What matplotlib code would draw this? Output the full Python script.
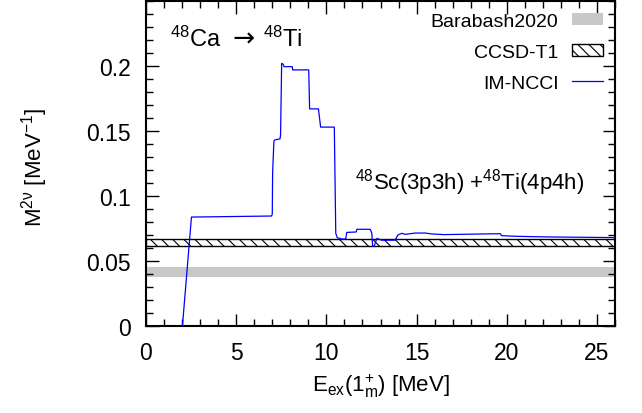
import matplotlib
matplotlib.use('Agg')
import matplotlib.pyplot as plt
from matplotlib.patches import Patch
from matplotlib.lines import Line2D
from matplotlib.ticker import MultipleLocator, FuncFormatter, FixedLocator

plt.rcParams['font.family'] = ['Liberation Sans', 'DejaVu Sans']
plt.rcParams['mathtext.fontset'] = 'custom'
plt.rcParams['mathtext.rm'] = 'Liberation Sans'
plt.rcParams['mathtext.it'] = 'Liberation Sans:italic'
plt.rcParams['mathtext.bf'] = 'Liberation Sans:bold'
plt.rcParams['mathtext.default'] = 'regular'
plt.rcParams['hatch.linewidth'] = 0.8

# IM-NCCI running sum vs excitation energy
energy = [2.02, 2.52, 6.96, 7.00, 7.02, 7.09, 7.12, 7.43, 7.46, 7.52, 7.60, 7.65,
          8.11, 8.13, 9.02, 9.07, 9.56, 9.68, 10.44, 10.52, 10.60, 10.85, 11.07,
          11.13, 11.63, 11.66, 11.69, 12.43, 12.52, 12.56, 12.65, 12.80, 13.07,
          13.81, 13.96, 14.18, 14.37, 14.93, 15.48, 15.85, 16.50, 18.63, 19.65,
          19.70, 20.50, 22.33, 26.0]
m2v = [0.0, 0.0838, 0.0846, 0.086, 0.118, 0.142, 0.143, 0.144, 0.147, 0.202,
       0.2015, 0.1995, 0.1995, 0.197, 0.197, 0.167, 0.167, 0.153, 0.153, 0.0713,
       0.068, 0.0669, 0.0669, 0.072, 0.0723, 0.0725, 0.0744, 0.0744, 0.0713,
       0.0615, 0.0615, 0.0674, 0.066, 0.066, 0.070, 0.0713, 0.0705, 0.0715,
       0.0715, 0.0708, 0.0703, 0.0708, 0.071, 0.0695, 0.069, 0.0685, 0.068]

barabash_low, barabash_high = 0.0378, 0.0454
ccsd_low, ccsd_high = 0.0618, 0.0669

x_ticks = [0, 5, 10, 15, 20, 25]
y_ticks = [0, 0.05, 0.1, 0.15, 0.2]

fig = plt.figure(figsize=(6.42, 4.14), dpi=100)
ax = fig.add_axes([146 / 642, 1 - 327 / 414, 469 / 642, 325 / 414])

ax.axhspan(barabash_low, barabash_high, color='#c8c8c8', lw=0, zorder=1)
ax.axhspan(ccsd_low, ccsd_high, facecolor='white', edgecolor='black',
           hatch='\\\\\\', lw=1.0, zorder=2)
ax.plot(energy, m2v, color='#0000ff', lw=0.9, zorder=3)

ax.set_xlim(0, 26)
ax.set_ylim(0, 0.25)
ax.xaxis.set_major_locator(FixedLocator(x_ticks))
ax.xaxis.set_minor_locator(MultipleLocator(1))
ax.yaxis.set_major_locator(FixedLocator(y_ticks))
ax.yaxis.set_minor_locator(MultipleLocator(0.01))
ax.yaxis.set_major_formatter(FuncFormatter(lambda v, p: f'{v:g}'))

ax.tick_params(which='both', direction='in', top=True, right=True, width=1)
ax.tick_params(which='major', length=9, labelsize=16.5, pad=11)
ax.tick_params(which='minor', length=5)
for s in ax.spines.values():
    s.set_linewidth(1.5)

ax.set_ylabel(r'M$^{2\nu}$ [MeV$^{-1}$]', fontsize=16)
ax.yaxis.set_label_coords(-0.205, 0.49)
ax.set_xlabel(r'E$_{ex}$($1^{+}_{m}$) [MeV]', fontsize=16)
ax.xaxis.set_label_coords(0.5, -0.14)

ax.text(1.31, 0.2157, r'$^{48}$Ca', fontsize=17, ha='left', va='baseline')
ax.text(4.78, 0.2160, '\u2192', fontsize=19, family='DejaVu Sans',
        ha='left', va='baseline')
ax.text(6.49, 0.2157, r'$^{48}$Ti', fontsize=17, ha='left', va='baseline')
ax.text(11.59, 0.106, r'$^{48}$Sc(3p3h) +$^{48}$Ti(4p4h)', fontsize=16,
        ha='left', va='baseline')

handles = [Patch(facecolor='#c8c8c8', edgecolor='none'),
           Patch(facecolor='white', edgecolor='black', hatch='\\\\\\', lw=1.0),
           Line2D([], [], color='#0000ff', lw=0.9)]
labels = ['Barabash2020', 'CCSD-T1', 'IM-NCCI']
ax.legend(handles, labels, loc='upper right', frameon=False, markerfirst=False,
          fontsize=14, handlelength=1.6, handleheight=0.55, handletextpad=0.7,
          labelspacing=0.72, borderaxespad=0.2)

fig.savefig('out.png', dpi=100)
